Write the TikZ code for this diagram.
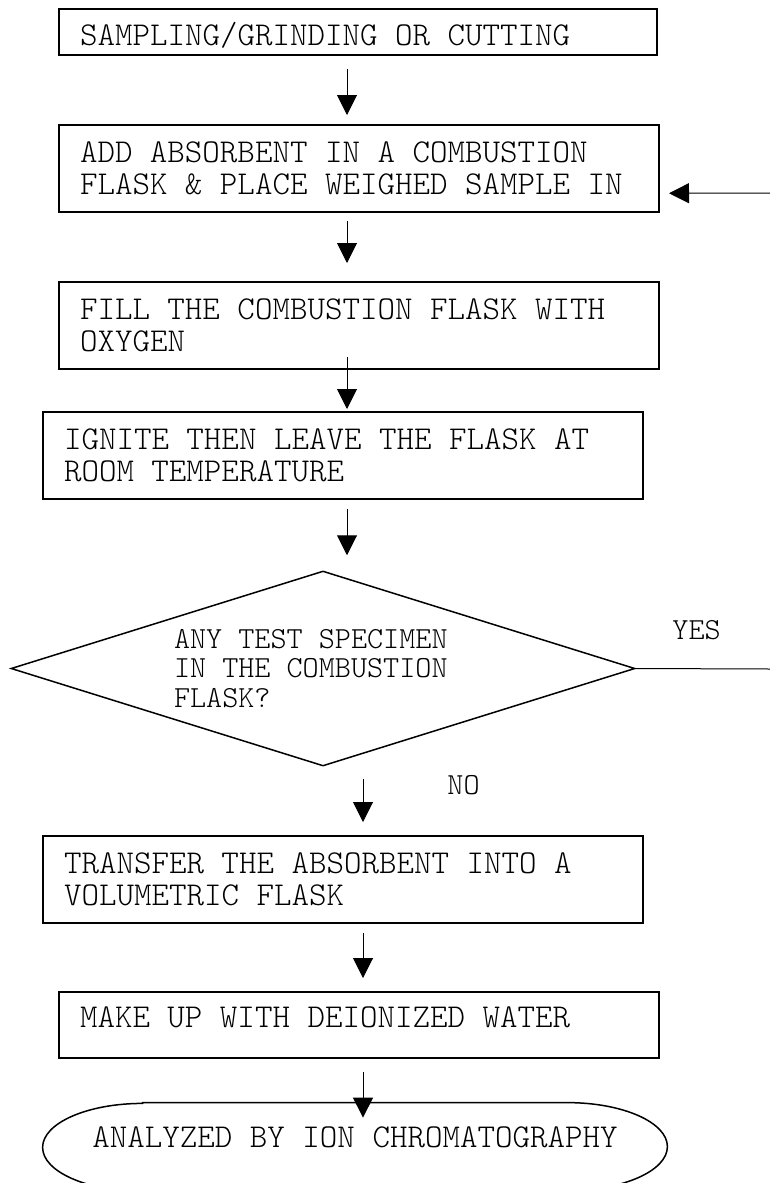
\documentclass[tikz,border=0pt]{standalone}
\usetikzlibrary{shapes.geometric,arrows.meta}
\newcommand\boxfont{\ttfamily\fontseries{l}\fontsize{16.67}{16.25}\selectfont}
\newcommand\askfont{\ttfamily\fontseries{l}\fontsize{15.33}{14.75}\selectfont}
\begin{document}
\begin{tikzpicture}[x=0.5pt, y=-0.5pt, >={Triangle[length=10pt,width=10pt]}, proc node/.style={rectangle,draw,line width=1pt,inner xsep=10.5pt,inner ysep=0pt,align=left,text width=279pt,minimum height=43.5pt,font=\boxfont,execute at begin node={\spaceskip=0.525em\relax}}, test node/.style={diamond,draw,line width=0.75pt,aspect=3.2,inner sep=0pt,align=left,font=\askfont,execute at begin node={\spaceskip=0.525em\relax}}]%
\useasboundingbox (0,0) rectangle (770,1183);
\begin{scope}
\node[proc node, text width=278pt, minimum height=23pt, text height=13pt, text depth=0pt] (s1) at (358,32) {SAMPLING/GRINDING OR CUTTING};
\node[proc node, minimum height=43.75pt] (s2) at (359,168.25) {ADD ABSORBENT IN A COMBUSTION\\FLASK \& PLACE WEIGHED SAMPLE IN};
\node[proc node] (s3) at (359,325.5) {FILL THE COMBUSTION FLASK WITH\\OXYGEN};
\node[proc node] (s4) at (343,455.5) {IGNITE THEN LEAVE THE FLASK AT\\ROOM TEMPERATURE};
\node[test node, minimum width=312pt, minimum height=97.5pt, text width=149pt] (s5) at (323,668.5) {ANY TEST SPECIMEN\\IN THE COMBUSTION\\FLASK?};
\node[proc node] (s6) at (343,879.5) {TRANSFER THE ABSORBENT INTO A\\VOLUMETRIC FLASK};
\node[proc node, minimum height=33pt, text height=8.5pt, text depth=6.5pt] (s7) at (359,1025) {MAKE UP WITH DEIONIZED WATER};
\node[minimum width=312pt, minimum height=44pt, inner sep=0pt, text height=8.5pt, text depth=8.5pt, font=\boxfont] (s8) at (355,1147) {ANALYZED BY ION CHROMATOGRAPHY};
\node[anchor=base west, inner sep=0pt, font=\askfont] (yes) at (672,639) {YES};
\node[anchor=base west, inner sep=0pt, font=\askfont] (no) at (447,794) {NO};
\coordinate (c1) at (770,193);
\coordinate (c2) at (770,669);
\end{scope}
\draw[line width=0.75pt] ([xshift=50pt]s8.north west) -- ([xshift=-50pt]s8.north east) arc[start angle=90, end angle=-90, x radius=50pt, y radius=22pt] -- ([xshift=50pt]s8.south west) arc[start angle=270, end angle=90, x radius=50pt, y radius=22pt] -- cycle;
\begin{scope}[line width=0.5pt]
\draw[->] ([shift={(-11,13)}]s1.south) -- ([shift={(-12,-8.5)}]s2.north);
\draw[->] ([shift={(-12,8)}]s2.south) -- ([shift={(-12,-18)}]s3.north);
\draw[->] ([shift={(-12,-13)}]s3.south) -- ([shift={(4,-2)}]s4.north);
\draw[->] ([shift={(4,9)}]s4.south) -- ([shift={(24,-15)}]s5.north);
\draw[->] ([shift={(40,12)}]s5.south) -- ([shift={(20,-13)}]s6.north);
\draw[->] ([shift={(20,9)}]s6.south) -- ([shift={(4,-13)}]s7.north);
\draw[->] ([shift={(4,13)}]s7.south) -- ([shift={(8,15)}]s8.north);
\draw[->] (c1) -- ([shift={(9,25)}]s2.east);
\draw (s5.east) -- (c2);
\end{scope}
\end{tikzpicture}
\end{document}
